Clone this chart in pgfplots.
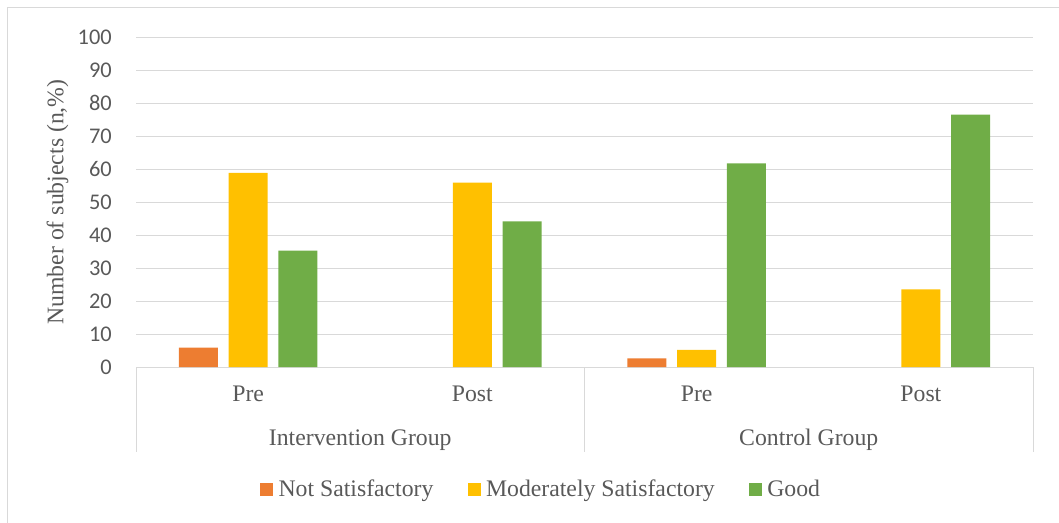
\documentclass[border=0pt]{standalone}
\usepackage{fontspec}
\setmainfont{Liberation Serif}
\newfontfamily\carlito{Carlito}
\usepackage{pgfplots}
\pgfplotsset{compat=1.18}
\definecolor{cNS}{HTML}{ED7D31}
\definecolor{cMS}{HTML}{FFC000}
\definecolor{cG}{HTML}{70AD47}
\definecolor{gridc}{HTML}{D9D9D9}
\definecolor{txt}{HTML}{595959}
\newcommand\serifsz{\rmfamily\fontsize{17.8}{20}\selectfont}
\begin{document}
\begin{tikzpicture}
\path[use as bounding box] (0pt,0pt) rectangle (794.25pt,-391.5pt);
\draw[gridc, line width=0.75pt] (5.25pt,-392pt) -- (5.25pt,-5.25pt) -- (795pt,-5.25pt);
\begin{axis}[
  at={(102pt,-275.25pt)}, anchor=south west,
  scale only axis, width=672.75pt, height=247.5pt,
  ybar, bar width=29.25pt,
  xmin=-0.5, xmax=3.5, ymin=0, ymax=100,
  xtick={0,1,2,3}, xticklabels={Pre,Post,Pre,Post},
  ytick={0,10,...,100},
  ymajorgrids, major grid style={draw=gridc, line width=0.75pt},
  axis line style={draw=none},
  major tick length=0pt,
  clip=false,
  /pgf/number format/assume math mode=true,
  yticklabel style={font=\carlito\fontsize{16.8}{18}\selectfont, text=txt, anchor=east, inner sep=0pt, xshift=-18pt},
  xticklabel style={font=\serifsz, text=txt, anchor=base, inner sep=0pt, yshift=-26pt},
  ylabel={Number of subjects (n,\%)},
  ylabel style={font=\serifsz, text=txt, at={(axis description cs:-0.081,0.5)}, anchor=base, inner sep=0pt},
  legend columns=3,
  legend style={at={(axis description cs:0.1382,-0.371)}, anchor=west, draw=none, fill=none, inner sep=0pt,
    font=\serifsz, text=txt, nodes={inner sep=0pt, font=\serifsz},
    /tikz/every odd column/.append style={column sep=4pt},
    /tikz/every even column/.append style={column sep=25.7pt}},
  legend image code/.code={\fill[#1] (0pt,-4.9pt) rectangle (9.75pt,4.9pt);},
]
\addplot[fill=cNS, draw=none, bar shift=-37.24pt] coordinates {(0,5.9) (2,2.6)};
\addplot[fill=cMS, draw=none, bar shift=0pt] coordinates {(0,58.8) (1,55.9) (2,5.2) (3,23.5)};
\addplot[fill=cG, draw=none, bar shift=37.24pt] coordinates {(0,35.3) (1,44.1) (2,61.7) (3,76.5)};
\legend{Not Satisfactory, Moderately Satisfactory, Good}
\draw[gridc, line width=0.75pt] (axis cs:-0.5,0) -- ++(0pt,-63.75pt);
\draw[gridc, line width=0.75pt] (axis cs:1.5,0) -- ++(0pt,-63.75pt);
\draw[gridc, line width=0.75pt] (axis cs:3.5,0) -- ++(0pt,-63.75pt);
\node[font=\serifsz, text=txt, anchor=base, inner sep=0pt, yshift=-59pt] at (axis cs:0.5,0) {Intervention Group};
\node[font=\serifsz, text=txt, anchor=base, inner sep=0pt, yshift=-59pt] at (axis cs:2.5,0) {Control Group};
\end{axis}
\end{tikzpicture}
\end{document}
